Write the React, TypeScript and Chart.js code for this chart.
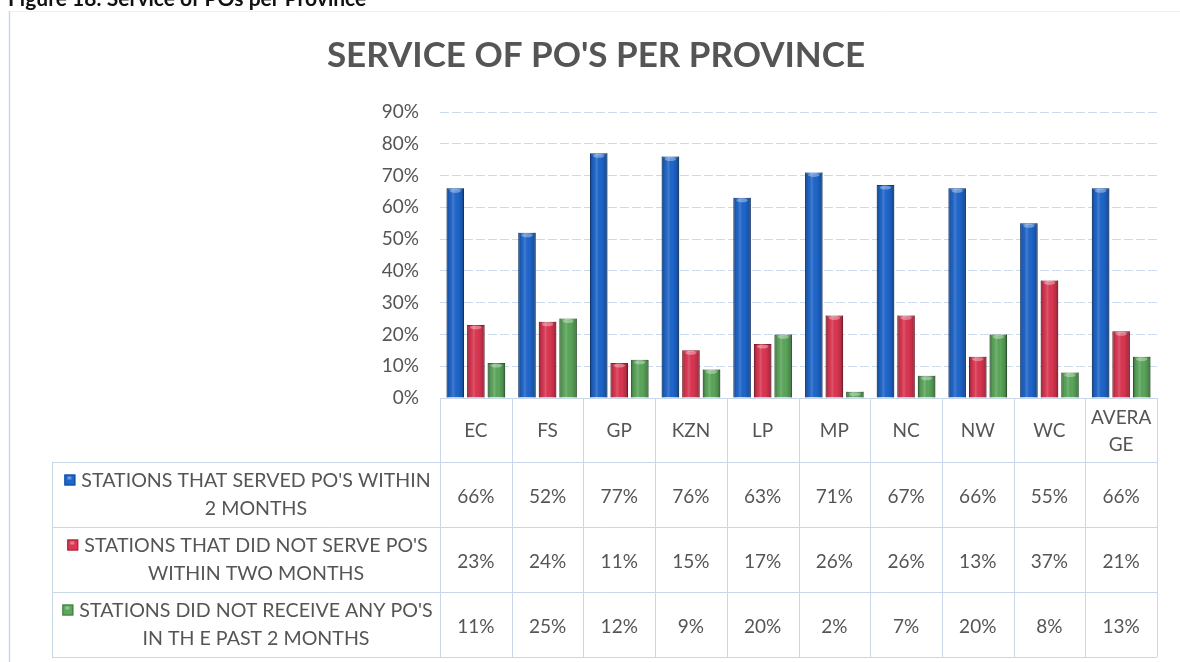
import React, { useEffect, useRef } from "react";
import { Chart, registerables } from "chart.js";

Chart.register(...registerables);

// ---------- data ----------
const categories = ["EC", "FS", "GP", "KZN", "LP", "MP", "NC", "NW", "WC", "AVERAGE"];
const servedWithin2Months = [66, 52, 77, 76, 63, 71, 67, 66, 55, 66];
const notServedWithin2Months = [23, 24, 11, 15, 17, 26, 26, 13, 37, 21];
const noPOsReceived = [11, 25, 12, 9, 20, 2, 7, 20, 8, 13];
const seriesLabels: string[][] = [
  ["STATIONS THAT SERVED PO'S WITHIN", "2 MONTHS"],
  ["STATIONS THAT DID NOT SERVE PO'S", "WITHIN TWO MONTHS"],
  ["STATIONS DID NOT RECEIVE ANY PO'S", "IN TH E PAST 2 MONTHS"],
];
const yMin = 0;
const yMax = 90;
const yStep = 10;
const chartTitle = "SERVICE OF PO'S PER PROVINCE";
const figureCaption = "Figure 18: Service of POs per Province";

// ---------- styles ----------
const W = 1180;
const H = 662;
const TEXT = "#555555";
const LINE = "#c9d8e8";
const FONT = "Lato, 'Open Sans', sans-serif";
const seriesColors = ["#1e66cc", "#dc3651", "#5ba75b"];
const seriesBorders = ["#124a9c", "#a8223a", "#3c7a3c"];

const decorPlugin = {
  id: "decor",
  beforeDraw(chart: any) {
    const ctx = chart.ctx;
    ctx.save();
    ctx.fillStyle = "#ffffff";
    ctx.fillRect(0, 0, W, H);
    // figure caption (cut at top of the page)
    ctx.fillStyle = "#111111";
    ctx.font = `bold 21px ${FONT}`;
    ctx.textAlign = "left";
    ctx.textBaseline = "alphabetic";
    ctx.fillText(figureCaption, 8, 6);
    // chart frame
    ctx.strokeStyle = LINE;
    ctx.lineWidth = 1.5;
    ctx.beginPath();
    ctx.moveTo(9.5, 11);
    ctx.lineTo(9.5, H);
    ctx.stroke();
    ctx.strokeStyle = "#eef2f7";
    ctx.lineWidth = 1;
    ctx.beginPath();
    ctx.moveTo(10, 11.5);
    ctx.lineTo(W, 11.5);
    ctx.stroke();
    // title
    ctx.fillStyle = TEXT;
    ctx.font = `bold 35px ${FONT}`;
    ctx.textAlign = "center";
    ctx.textBaseline = "middle";
    ctx.fillText(chartTitle, 596, 56);
    ctx.restore();
  },
};

const shadePlugin = {
  id: "shade",
  afterDatasetsDraw(chart: any) {
    const ctx = chart.ctx;
    ctx.save();
    chart.data.datasets.forEach((_d: any, di: number) => {
      const meta = chart.getDatasetMeta(di);
      meta.data.forEach((bar: any) => {
        const w = bar.width;
        const left = bar.x - w / 2;
        const top = Math.min(bar.y, bar.base);
        const h = Math.abs(bar.base - bar.y);
        const g = ctx.createLinearGradient(left, 0, left + w, 0);
        g.addColorStop(0, "rgba(0,0,0,0.35)");
        g.addColorStop(0.18, "rgba(0,0,0,0.05)");
        g.addColorStop(0.38, "rgba(255,255,255,0.16)");
        g.addColorStop(0.62, "rgba(0,0,0,0)");
        g.addColorStop(0.85, "rgba(0,0,0,0.15)");
        g.addColorStop(1, "rgba(0,0,0,0.4)");
        ctx.fillStyle = g;
        ctx.fillRect(left, top, w, h);
        if (h > 4) {
          ctx.fillStyle = "rgba(255,255,255,0.35)";
          ctx.beginPath();
          ctx.ellipse(bar.x, top + 2.5, w / 2 - 3, 2, 0, 0, Math.PI * 2);
          ctx.fill();
        }
      });
    });
    ctx.restore();
  },
};

function wrapChars(ctx: CanvasRenderingContext2D, text: string, maxW: number): string[] {
  if (ctx.measureText(text).width <= maxW) return [text];
  const lines: string[] = [];
  let cur = "";
  for (const ch of text) {
    if (ctx.measureText(cur + ch).width > maxW && cur) {
      lines.push(cur);
      cur = ch;
    } else cur += ch;
  }
  if (cur) lines.push(cur);
  return lines;
}

const tablePlugin = {
  id: "dataTable",
  afterDraw(chart: any) {
    const ctx = chart.ctx;
    const xs = chart.scales.x;
    const area = chart.chartArea;
    const n = categories.length;
    const bounds: number[] = [area.left];
    for (let i = 0; i < n - 1; i++) {
      bounds.push((xs.getPixelForValue(i) + xs.getPixelForValue(i + 1)) / 2);
    }
    bounds.push(area.right);
    const top = area.bottom;
    const headerBottom = top + 64;
    const rowH = 65;
    const legendLeft = 52;
    const series = [servedWithin2Months, notServedWithin2Months, noPOsReceived];
    const tableBottom = headerBottom + rowH * series.length;

    ctx.save();
    ctx.strokeStyle = LINE;
    ctx.lineWidth = 1;
    ctx.beginPath();
    bounds.forEach((bx) => {
      const x = Math.round(bx) + 0.5;
      ctx.moveTo(x, top);
      ctx.lineTo(x, tableBottom);
    });
    ctx.moveTo(legendLeft + 0.5, headerBottom);
    ctx.lineTo(legendLeft + 0.5, tableBottom);
    ctx.moveTo(area.left, Math.round(top) + 0.5);
    ctx.lineTo(area.right, Math.round(top) + 0.5);
    for (let r = 0; r <= series.length; r++) {
      const y = Math.round(headerBottom + r * rowH) + 0.5;
      ctx.moveTo(legendLeft, y);
      ctx.lineTo(area.right, y);
    }
    ctx.stroke();

    ctx.fillStyle = TEXT;
    ctx.font = `19px ${FONT}`;
    ctx.textAlign = "center";
    ctx.textBaseline = "middle";
    const headerMid = (top + headerBottom) / 2;
    categories.forEach((c, i) => {
      const cx = (bounds[i] + bounds[i + 1]) / 2;
      const lines = wrapChars(ctx, c, bounds[i + 1] - bounds[i] - 6);
      const lh = 27;
      lines.forEach((ln, k) => {
        ctx.fillText(ln, cx, headerMid + 1 + (k - (lines.length - 1) / 2) * lh);
      });
    });
    const textCenter = (legendLeft + 20 + area.left) / 2;
    series.forEach((vals, r) => {
      const rt = headerBottom + r * rowH;
      const rc = rt + rowH / 2;
      ctx.font = `19px ${FONT}`;
      vals.forEach((v, i) => {
        const cx = (bounds[i] + bounds[i + 1]) / 2;
        ctx.fillStyle = TEXT;
        ctx.fillText(`${v}%`, cx, rc + 2);
      });
      ctx.font = `19.6px ${FONT}`;
      const lbl = seriesLabels[r];
      lbl.forEach((ln, k) => {
        const y = rc + (k - (lbl.length - 1) / 2) * 28;
        ctx.fillStyle = TEXT;
        ctx.fillText(ln, textCenter, y);
        if (k === 0) {
          const tw = ctx.measureText(ln).width;
          const kx = textCenter - tw / 2 - 17;
          ctx.fillStyle = seriesColors[r];
          ctx.fillRect(kx, y - 6, 11, 11);
          ctx.strokeStyle = seriesBorders[r];
          ctx.strokeRect(kx + 0.5, y - 5.5, 10, 10);
          ctx.fillStyle = "rgba(255,255,255,0.35)";
          ctx.fillRect(kx + 3, y - 4, 4, 3);
        }
      });
    });
    ctx.restore();
  },
};

export default function App() {
  const ref = useRef<HTMLCanvasElement | null>(null);

  useEffect(() => {
    document.body.style.margin = "0";
    const canvas = ref.current;
    if (!canvas) return;
    const datasets = [servedWithin2Months, notServedWithin2Months, noPOsReceived].map((d, i) => ({
      label: seriesLabels[i].join(" "),
      data: d,
      backgroundColor: seriesColors[i],
      borderColor: seriesBorders[i],
      borderWidth: 1,
      categoryPercentage: 0.86,
      barPercentage: 0.85,
    }));
    const chart = new Chart(canvas, {
      type: "bar",
      data: { labels: categories, datasets },
      options: {
        responsive: false,
        animation: false,
        devicePixelRatio: 1,
        layout: { padding: { top: 112, left: 380, right: 23, bottom: H - 398 } },
        plugins: {
          legend: { display: false },
          title: { display: false },
          tooltip: { enabled: false },
        },
        scales: {
          x: { display: false },
          y: {
            min: yMin,
            max: yMax,
            afterFit: (s: any) => {
              s.width = 60;
            },
            ticks: {
              stepSize: yStep,
              padding: 21,
              color: TEXT,
              font: { family: FONT, size: 19 },
              callback: (v: any) => `${v}%`,
            },
            grid: {
              drawTicks: false,
              color: (c: any) => (c.tick && c.tick.value === 0 ? "rgba(0,0,0,0)" : "#cbdbeb"),
            },
            border: { display: false, dash: [9, 3] },
          },
        },
      },
      plugins: [decorPlugin, shadePlugin, tablePlugin],
    });
    return () => chart.destroy();
  }, []);

  return (
    <div style={{ position: "absolute", left: 0, top: 0, width: W, height: H }}>
      <canvas ref={ref} width={W} height={H} style={{ display: "block", width: W, height: H }} />
    </div>
  );
}
